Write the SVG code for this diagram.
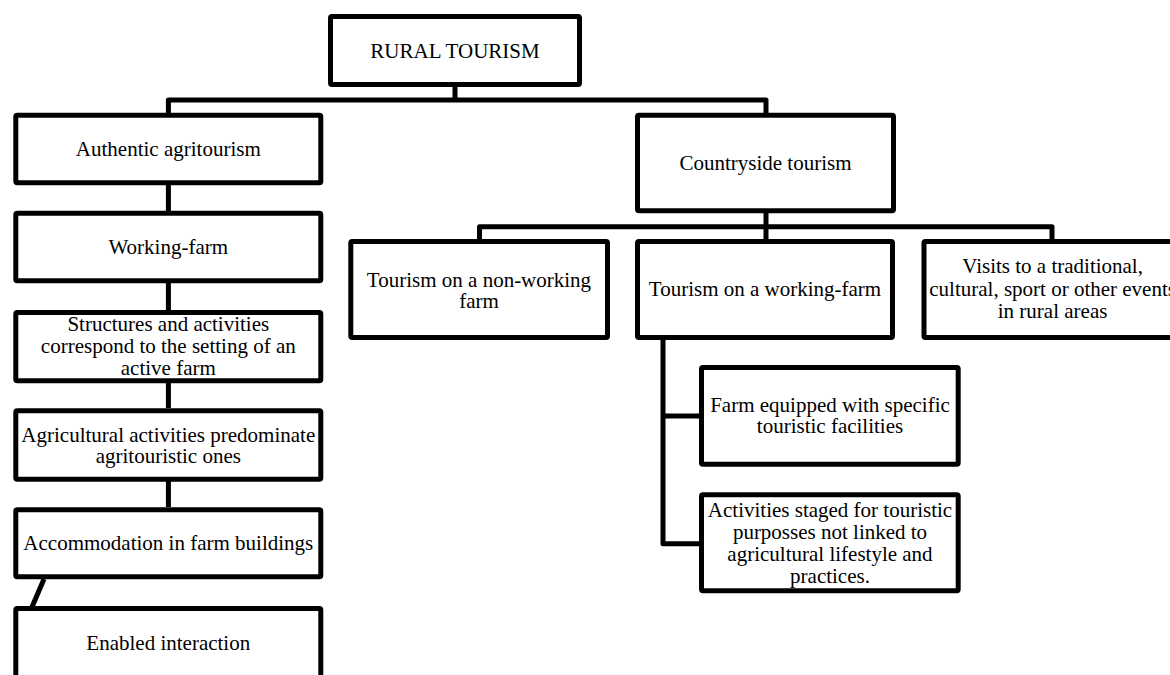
<svg xmlns="http://www.w3.org/2000/svg" width="1170" height="675" viewBox="0 0 1170 675">
<style>
.box{fill:#fff;stroke:#000;stroke-width:5;stroke-linejoin:round}
.conn{fill:none;stroke:#000;stroke-width:5;stroke-linejoin:round}
text{font-family:"Liberation Serif","Times New Roman",serif;font-size:21px;fill:#000;text-anchor:middle}
</style>
<rect width="1170" height="675" fill="#fff"/>
<g id="connectors">
<path class="conn" d="M168.4 113 V100 H766 V113 M455 87 V100"/>
<path class="conn" d="M168.4 185 V211"/>
<path class="conn" d="M168.4 283 V310"/>
<path class="conn" d="M168.4 383 V408"/>
<path class="conn" d="M168.4 481 V507"/>
<path class="conn" d="M44 579 L32 607"/>
<path class="conn" d="M766 213 V239 M479.5 239 V226.7 H1052 V239"/>
<path class="conn" d="M663 338 V543.7 H700 M663 416 H700"/>
</g>
<g id="rural-tourism">
<rect class="box" x="330.5" y="16.5" width="249" height="68" rx="1.5"/>
<text x="455" y="57.5">RURAL TOURISM</text>
</g>
<g id="authentic-agritourism">
<rect class="box" x="15.8" y="115.2" width="305" height="67.6" rx="1.5"/>
<text x="168.3" y="156">Authentic agritourism</text>
</g>
<g id="working-farm">
<rect class="box" x="15.8" y="213.2" width="305" height="67.6" rx="1.5"/>
<text x="168.3" y="254.3">Working-farm</text>
</g>
<g id="structures">
<rect class="box" x="15.8" y="312.5" width="305" height="68.3" rx="1.5"/>
<text x="168.3" y="331">Structures and activities</text>
<text x="168.3" y="353">correspond to the setting of an</text>
<text x="168.3" y="375">active farm</text>
</g>
<g id="agricultural">
<rect class="box" x="15.8" y="410.8" width="305" height="68.4" rx="1.5"/>
<text x="168.3" y="441.7">Agricultural activities predominate</text>
<text x="168.3" y="462.7">agritouristic ones</text>
</g>
<g id="accommodation">
<rect class="box" x="15.8" y="509.8" width="305" height="67" rx="1.5"/>
<text x="168.3" y="550">Accommodation in farm buildings</text>
</g>
<g id="enabled-interaction">
<rect class="box" x="15.8" y="608.5" width="305" height="100" rx="1.5"/>
<text x="168.3" y="650">Enabled interaction</text>
</g>
<g id="countryside-tourism">
<rect class="box" x="637.5" y="115.2" width="256" height="95.6" rx="1.5"/>
<text x="765.5" y="170">Countryside tourism</text>
</g>
<g id="non-working-farm">
<rect class="box" x="350.8" y="241.5" width="256.7" height="96" rx="1.5"/>
<text x="479" y="286.5">Tourism on a non-working</text>
<text x="479" y="308">farm</text>
</g>
<g id="tourism-working-farm">
<rect class="box" x="637.5" y="241.5" width="255" height="96" rx="1.5"/>
<text x="765" y="296">Tourism on a working-farm</text>
</g>
<g id="visits">
<rect class="box" x="924" y="241.5" width="258" height="96" rx="1.5"/>
<text x="1052.6" y="273.3">Visits to a traditional,</text>
<text x="1052.6" y="296.3">cultural, sport or other events</text>
<text x="1052.6" y="318.3">in rural areas</text>
</g>
<g id="farm-equipped">
<rect class="box" x="701.5" y="367.5" width="256.7" height="96.7" rx="1.5"/>
<text x="830" y="411.7">Farm equipped with specific</text>
<text x="830" y="433.3">touristic facilities</text>
</g>
<g id="activities-staged">
<rect class="box" x="701.5" y="494.8" width="256.7" height="96" rx="1.5"/>
<text x="830" y="516.7">Activities staged for touristic</text>
<text x="830" y="538.5">purposses not linked to</text>
<text x="830" y="561">agricultural lifestyle and</text>
<text x="830" y="583.3">practices.</text>
</g>
</svg>
